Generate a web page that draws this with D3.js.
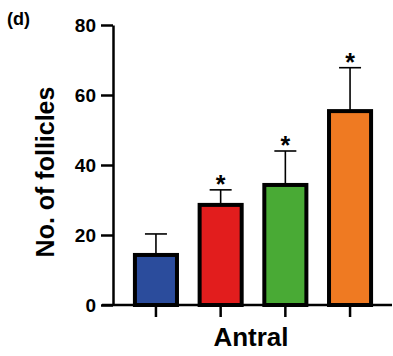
<!DOCTYPE html>
<html>
<head>
<meta charset="utf-8">
<style>
  body { margin: 0; background: #fff; }
  text { font-family: Arial, "Liberation Sans", sans-serif; }
</style>
</head>
<body>
<svg id="chart" width="393" height="356"></svg>
<script src="https://d3js.org/d3.v7.min.js"></script>
<script>
  const groups = ["g1", "g2", "g3", "g4"];
  const means = [14.3, 28.6, 34.3, 55.4];
  const upper = [20.3, 32.9, 44, 67.8];
  const signif = [false, true, true, true];
  const colors = ["#2b4c9c", "#e21d1d", "#49aa35", "#ef7a22"];
  const yTicks = [0, 20, 40, 60, 80];

  const svg = d3.select("#chart");

  const y = d3.scaleLinear().domain([0, 80]).range([305, 25]);
  const x = d3.scaleBand().domain(groups).range([123.6, 382.4])
    .paddingInner(0.35).paddingOuter(0.175);

  // y axis
  const yAxis = svg.append("g")
    .attr("transform", "translate(113,0)")
    .call(d3.axisLeft(y).tickValues(yTicks).tickSize(12).tickPadding(5).tickSizeOuter(0));
  yAxis.select(".domain").attr("stroke", "#000").attr("stroke-width", 2.5);
  yAxis.selectAll(".tick line").attr("stroke-width", 2.5);
  yAxis.selectAll(".tick text")
    .attr("font-size", 19).attr("font-weight", "bold").attr("fill", "#000")
    .attr("font-family", "Arial, 'Liberation Sans', sans-serif");

  // x axis
  const xAxis = svg.append("g")
    .attr("transform", "translate(0,305)")
    .call(d3.axisBottom(x).tickSize(12).tickFormat(""));
  xAxis.select(".domain").attr("d", "M102,0H392").attr("stroke", "#000").attr("stroke-width", 2.5);
  xAxis.selectAll(".tick line").attr("stroke-width", 2.5);

  // error bars
  const err = svg.append("g");
  groups.forEach((g, i) => {
    const cx = x(g) + x.bandwidth() / 2;
    err.append("line")
      .attr("x1", cx).attr("x2", cx)
      .attr("y1", y(means[i])).attr("y2", y(upper[i]))
      .attr("stroke", "#000").attr("stroke-width", 1.6);
    err.append("line")
      .attr("x1", cx - 11).attr("x2", cx + 11)
      .attr("y1", y(upper[i])).attr("y2", y(upper[i]))
      .attr("stroke", "#000").attr("stroke-width", 1.6);
    if (signif[i]) {
      err.append("text")
        .attr("x", cx).attr("y", y(upper[i]) + 3)
        .attr("text-anchor", "middle")
        .attr("font-size", 25).attr("font-weight", "bold")
        .text("*");
    }
  });

  // bars
  svg.append("g")
    .selectAll("rect")
    .data(groups)
    .join("rect")
    .attr("x", d => x(d))
    .attr("width", x.bandwidth())
    .attr("y", (d, i) => y(means[i]))
    .attr("height", (d, i) => y(0) - y(means[i]))
    .attr("fill", (d, i) => colors[i])
    .attr("stroke", "#000")
    .attr("stroke-width", 4);

  // labels
  svg.append("text")
    .attr("transform", "translate(54,172) rotate(-90)")
    .attr("text-anchor", "middle")
    .attr("font-size", 25).attr("font-weight", "bold")
    .text("No. of follicles");

  svg.append("text")
    .attr("x", 251).attr("y", 346)
    .attr("text-anchor", "middle")
    .attr("font-size", 26).attr("font-weight", "bold")
    .text("Antral");

  svg.append("text")
    .attr("x", 7).attr("y", 25)
    .attr("font-size", 18).attr("font-weight", "bold")
    .text("(d)");
</script>
</body>
</html>
